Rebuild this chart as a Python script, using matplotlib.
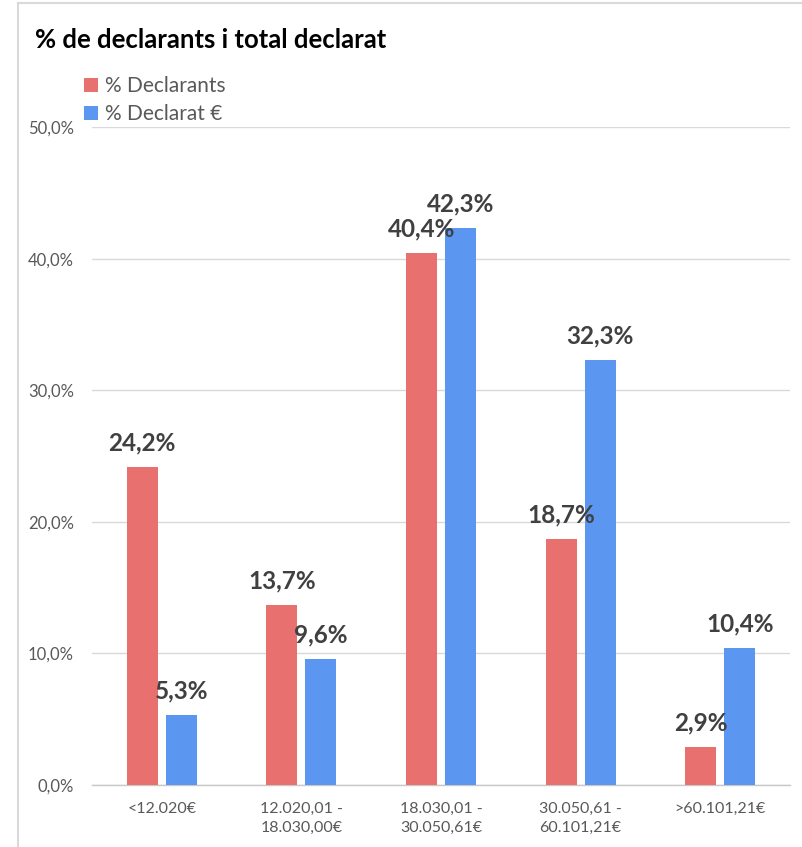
import matplotlib.pyplot as plt
import numpy as np
from matplotlib.lines import Line2D

plt.rcParams['font.family'] = ['Lato', 'DejaVu Sans']

categories = ['<12.020€', '12.020,01 -\n18.030,00€', '18.030,01 -\n30.050,61€',
              '30.050,61 -\n60.101,21€', '>60.101,21€']
declarants = [24.2, 13.7, 40.4, 18.7, 2.9]
declarat = [5.3, 9.6, 42.3, 32.3, 10.4]
series_names = ['% Declarants', '% Declarat €']
colors = ['#E8716F', '#5B96F0']


def fmt(v):
    return ('%.1f%%' % v).replace('.', ',')


fig = plt.figure(figsize=(8.02, 8.47), dpi=100)
ax = fig.add_axes([0.1147, 0.0732, 0.8703, 0.7768])

x = np.arange(len(categories))
w = 0.222
off = 0.14
b1 = ax.bar(x - off, declarants, w, color=colors[0], label=series_names[0], zorder=3)
b2 = ax.bar(x + off, declarat, w, color=colors[1], label=series_names[1], zorder=3)

for bars, vals in ((b1, declarants), (b2, declarat)):
    for r, v in zip(bars, vals):
        ax.annotate(fmt(v), (r.get_x() + r.get_width() / 2, v), xytext=(0, 9),
                    textcoords='offset points', ha='center', va='bottom',
                    fontsize=17.5, fontweight='bold', color='#404040', zorder=4)

ax.set_xlim(-0.5, len(categories) - 0.5)
ax.set_ylim(0, 50)
ax.set_yticks(np.arange(0, 51, 10))
ax.set_yticklabels([fmt(t) for t in np.arange(0, 51, 10)])
ax.set_xticks(x)
ax.set_xticklabels(categories, linespacing=1.45)
ax.tick_params(axis='both', length=0, colors='#595959')
ax.tick_params(axis='y', pad=13, labelsize=12)
ax.tick_params(axis='x', pad=12, labelsize=11.5)
ax.yaxis.grid(True, color='#D9D9D9', linewidth=1, zorder=0)
for s in ('top', 'right', 'left'):
    ax.spines[s].set_visible(False)
ax.spines['bottom'].set_color('#C8C8C8')
ax.spines['bottom'].set_linewidth(1)

fig.text(35 / 802, 1 - 40 / 847, '% de declarants i total declarat', fontsize=18.5,
         fontweight='bold', color='black', va='center', ha='left')

leg = fig.legend(handles=[b1, b2], labels=series_names, loc='upper left',
                 bbox_to_anchor=(84 / 802, 1 - 76 / 847), frameon=False,
                 fontsize=15, handlelength=0.65, handleheight=0.65, handletextpad=0.35,
                 labelspacing=0.4, borderaxespad=0, borderpad=0)
for t in leg.get_texts():
    t.set_color('#595959')

# chart frame (left and top edges visible in the crop)
fig.add_artist(Line2D([18 / 802, 18 / 802], [0, 1 - 3 / 847], color='#D9D9D9', lw=1.5))
fig.add_artist(Line2D([18 / 802, 1], [1 - 3 / 847, 1 - 3 / 847], color='#D9D9D9', lw=1.5))

plt.savefig('out.png', dpi=100)
